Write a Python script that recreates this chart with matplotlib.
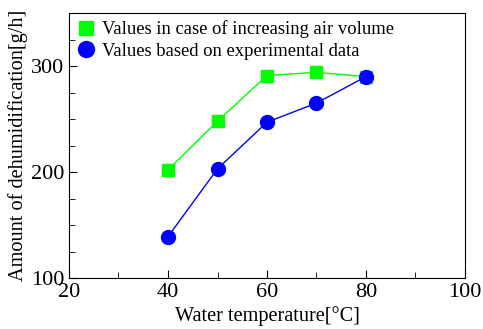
import matplotlib
matplotlib.use('Agg')
from matplotlib import pyplot as plt
from matplotlib.ticker import MultipleLocator

# 데이터
water_temp = [40, 50, 60, 70, 80]
increased_air = [202, 248, 291, 294, 290]
experimental = [139, 203, 247, 265, 290]

plt.rcParams['font.family'] = ['Liberation Serif', 'DejaVu Serif']

fig = plt.figure(figsize=(4.83, 3.29), dpi=100)
ax = fig.add_axes([69/483, 1-278/329, (465-69)/483, (278-13)/329])

ax.plot(water_temp, increased_air, color='#00ff00', lw=1, marker='s', ms=9,
        label='Values in case of increasing air volume')
ax.plot(water_temp, experimental, color='#0000ff', lw=1, marker='o', ms=10,
        label='Values based on experimental data')

ax.set_xlim(20, 100)
ax.set_ylim(100, 350)
ax.xaxis.set_major_locator(MultipleLocator(20))
ax.xaxis.set_minor_locator(MultipleLocator(10))
ax.yaxis.set_major_locator(MultipleLocator(100))
ax.yaxis.set_minor_locator(MultipleLocator(25))
ax.tick_params(which='both', direction='in', labelsize=16, top=False, right=False)
ax.tick_params(which='major', length=6)
ax.tick_params(which='minor', length=4)

ax.set_xlabel('Water temperature[°C]', fontsize=14.6, labelpad=3)
ax.set_ylabel('Amount of dehumidification[g/h]', fontsize=14.6, labelpad=2)

# 범례 (마커만 표시)
leg = ax.legend(loc='upper left', frameon=False, fontsize=13.4, handletextpad=0.4,
                borderaxespad=0.1, labelspacing=0.25, handlelength=1.0,
                markerscale=1.15, borderpad=0.3)
for h in leg.get_lines():
    h.set_linestyle('')

fig.savefig('out.png', dpi=100)
